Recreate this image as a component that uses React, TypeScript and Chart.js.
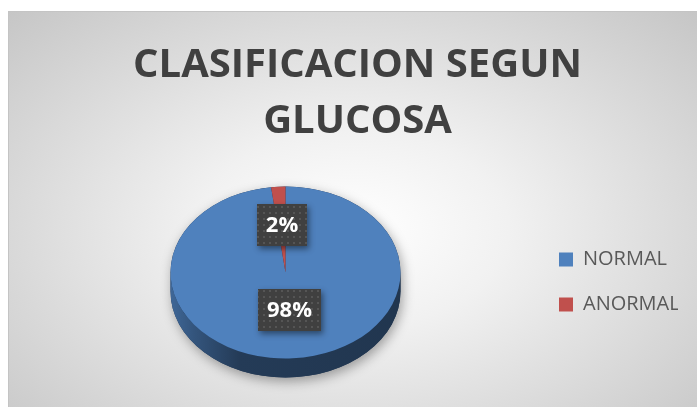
import { useEffect, useRef } from "react";
import { Chart, registerables } from "chart.js";

Chart.register(...registerables);

// ---- data ----
const categories: string[] = ["NORMAL", "ANORMAL"];
const values: number[] = [98, 2];
const sliceColors: string[] = ["#4F81BD", "#C0504D"];
const titleLines: string[] = ["CLASIFICACION SEGUN", "GLUCOSA"];

// ---- 3D look ----
const TILT = 0.748;
const DEPTH = 19;
const LABEL_LIFT = 5;

function shade(hex: string, f: number): string {
  const n = parseInt(hex.slice(1), 16);
  const r = Math.round(((n >> 16) & 255) * f);
  const g = Math.round(((n >> 8) & 255) * f);
  const b = Math.round((n & 255) * f);
  return `rgb(${r},${g},${b})`;
}

let dotPattern: CanvasPattern | null = null;
function getPattern(ctx: CanvasRenderingContext2D): CanvasPattern | string {
  if (dotPattern) return dotPattern;
  const c = document.createElement("canvas");
  c.width = 6;
  c.height = 6;
  const p = c.getContext("2d")!;
  p.fillStyle = "#555555";
  p.fillRect(2, 2, 2, 2);
  dotPattern = ctx.createPattern(c, "repeat");
  return dotPattern || "#404040";
}

function geometry(chart: any) {
  const meta = chart.getDatasetMeta(0);
  const arcs = meta.data as any[];
  if (!arcs.length) return null;
  const { x, y, outerRadius } = arcs[0].getProps(["x", "y", "outerRadius"], true);
  return { arcs, cx: x as number, cy0: y as number, r: outerRadius as number, cyTop: (y as number) - DEPTH / 2 };
}

function drawLabel(ctx: CanvasRenderingContext2D, text: string, x: number, y: number) {
  ctx.save();
  ctx.font = "bold 22px 'Open Sans'";
  const tw = ctx.measureText(text).width;
  const w = Math.round(tw + 18);
  const h = 42;
  const bx = Math.round(x - w / 2);
  const by = Math.round(y - h / 2);
  ctx.shadowColor = "rgba(0,0,0,0.45)";
  ctx.shadowBlur = 6;
  ctx.shadowOffsetX = 2;
  ctx.shadowOffsetY = 3;
  ctx.fillStyle = "#404040";
  ctx.fillRect(bx, by, w, h);
  ctx.shadowColor = "transparent";
  ctx.shadowBlur = 0;
  ctx.shadowOffsetX = 0;
  ctx.shadowOffsetY = 0;
  ctx.fillStyle = getPattern(ctx);
  ctx.fillRect(bx, by, w, h);
  ctx.fillStyle = "#ffffff";
  ctx.textAlign = "center";
  ctx.textBaseline = "middle";
  ctx.fillText(text, bx + w / 2, by + h / 2 + 1);
  ctx.restore();
}

const pie3d = {
  id: "pie3d",
  beforeDatasetsDraw(chart: any) {
    const g = geometry(chart);
    if (!g) return;
    const { arcs, cx, cy0, r, cyTop } = g;
    const ry = r * TILT;
    const ctx: CanvasRenderingContext2D = chart.ctx;

    // soft shadow of the whole cake
    ctx.save();
    ctx.shadowColor = "rgba(0,0,0,0.35)";
    ctx.shadowBlur = 12;
    ctx.shadowOffsetX = 2;
    ctx.shadowOffsetY = 4;
    ctx.beginPath();
    ctx.ellipse(cx, cyTop, r, ry, 0, Math.PI, 2 * Math.PI);
    ctx.ellipse(cx, cyTop + DEPTH, r, ry, 0, 0, Math.PI);
    ctx.closePath();
    ctx.fillStyle = "#1d3351";
    ctx.fill();
    ctx.restore();

    // side walls (front half only)
    arcs.forEach((arc: any, i: number) => {
      const { startAngle, endAngle } = arc.getProps(["startAngle", "endAngle"], true);
      const base = sliceColors[i % sliceColors.length];
      for (let k = -1; k <= 1; k++) {
        const f0 = 2 * Math.PI * k;
        const f1 = f0 + Math.PI;
        const s = Math.max(startAngle, f0);
        const e = Math.min(endAngle, f1);
        if (e > s) {
          const grad = ctx.createLinearGradient(cx - r, 0, cx + r, 0);
          grad.addColorStop(0, shade(base, 0.8));
          grad.addColorStop(0.1, shade(base, 0.66));
          grad.addColorStop(0.3, shade(base, 0.46));
          grad.addColorStop(1, shade(base, 0.42));
          ctx.save();
          ctx.beginPath();
          ctx.ellipse(cx, cyTop, r, ry, 0, s - f0, e - f0, false);
          ctx.ellipse(cx, cyTop + DEPTH, r, ry, 0, e - f0, s - f0, true);
          ctx.closePath();
          ctx.fillStyle = grad;
          ctx.fill();
          ctx.restore();
        }
      }
    });

    // squash the top face
    ctx.save();
    ctx.translate(0, cyTop);
    ctx.scale(1, TILT);
    ctx.translate(0, -cy0);
  },
  afterDatasetsDraw(chart: any) {
    const g = geometry(chart);
    if (!g) return;
    const ctx: CanvasRenderingContext2D = chart.ctx;
    ctx.restore();
    const { arcs, cy0, cyTop } = g;
    const total = values.reduce((a, b) => a + b, 0);
    arcs.forEach((arc: any, i: number) => {
      const p = arc.getCenterPoint(true);
      const y = cyTop + (p.y - cy0) * TILT - LABEL_LIFT;
      const txt = Math.round((values[i] / total) * 100) + "%";
      drawLabel(ctx, txt, p.x, y);
    });
  },
};

export default function App() {
  const ref = useRef<HTMLCanvasElement | null>(null);

  useEffect(() => {
    document.documentElement.style.overflow = "hidden";
    document.body.style.overflow = "hidden";
    const canvas = ref.current;
    if (!canvas) return;
    const chart = new Chart(canvas, {
      type: "pie",
      data: {
        labels: categories,
        datasets: [
          {
            data: values,
            backgroundColor: sliceColors,
            borderWidth: 0,
          },
        ],
      },
      options: {
        responsive: false,
        animation: false,
        radius: 115,
        layout: { padding: { left: 28, right: 28, top: 0, bottom: 0 } },
        plugins: {
          title: {
            display: true,
            text: titleLines,
            color: "#404040",
            font: { family: "'Open Sans'", size: 40, weight: "bold", lineHeight: 56 / 40 },
            padding: { top: 26, bottom: 7 },
          },
          legend: {
            position: "right",
            fullSize: false,
            maxWidth: 144,
            labels: {
              color: "#595959",
              font: { family: "'Open Sans'", size: 20 },
              boxWidth: 14,
              boxHeight: 14,
              padding: 25,
            },
          },
          tooltip: { enabled: false },
        },
      } as any,
      plugins: [pie3d as any],
    });
    return () => chart.destroy();
  }, []);

  return (
    <div
      style={{
        position: "absolute",
        left: 8,
        top: 11,
        width: 689,
        height: 396,
        boxSizing: "border-box",
        borderTop: "1px solid #c4c4c4",
        borderLeft: "1px solid #c4c4c4",
        overflow: "hidden",
        background:
          "radial-gradient(ellipse farthest-corner at 50% 55%, #ffffff 0%, #f1f1f1 32%, #c6c6c6 100%)",
      }}
    >
      <canvas ref={ref} width={697} height={395} style={{ display: "block", width: 697, height: 395 }} />
    </div>
  );
}
